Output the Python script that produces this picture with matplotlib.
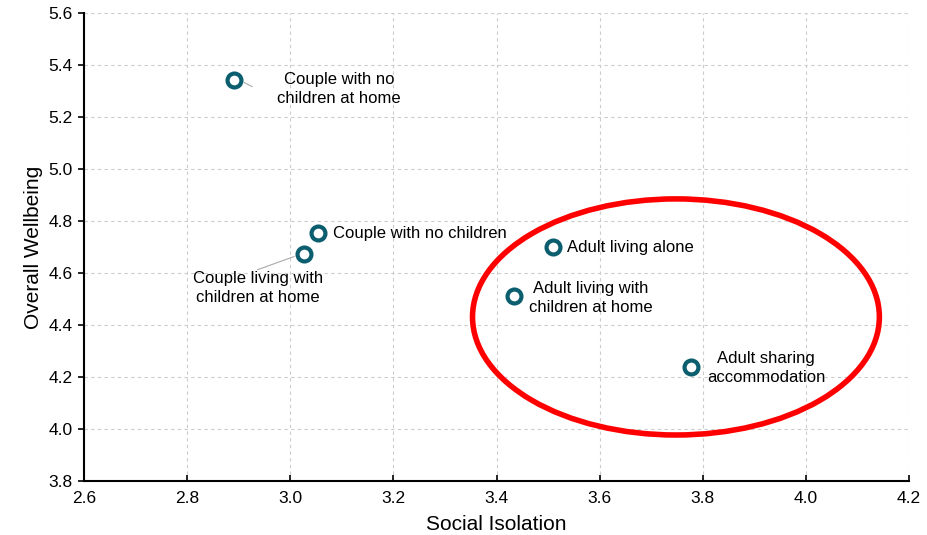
import matplotlib
matplotlib.use("Agg")
import matplotlib.pyplot as plt
from matplotlib.patches import Ellipse

plt.rcParams['font.family'] = ['Liberation Sans', 'DejaVu Sans']

categories = ["Couple with no\nchildren at home", "Couple with no children",
              "Couple living with\nchildren at home", "Adult living alone",
              "Adult living with\nchildren at home", "Adult sharing\naccommodation"]
social_isolation = [2.891, 3.054, 3.027, 3.510, 3.434, 3.777]
overall_wellbeing = [5.342, 4.754, 4.673, 4.700, 4.512, 4.238]

# label positions (data coords) and alignment
label_pos = [(3.095, 5.308), (3.083, 4.752), (2.937, 4.542), (3.537, 4.698),
             (3.583, 4.504), (3.923, 4.235)]
label_ha = ['center', 'left', 'center', 'left', 'center', 'center']
leader = [True, False, True, False, False, False]

fig = plt.figure(figsize=(9.27, 5.35), dpi=100)
ax = fig.add_axes([0.0906, 0.1009, 0.89, 0.8748])

ax.set_xlim(2.6, 4.2)
ax.set_ylim(3.8, 5.6)
ax.set_xticks([2.6, 2.8, 3.0, 3.2, 3.4, 3.6, 3.8, 4.0, 4.2])
ax.set_yticks([3.8, 4.0, 4.2, 4.4, 4.6, 4.8, 5.0, 5.2, 5.4, 5.6])
ax.xaxis.set_major_formatter(matplotlib.ticker.FormatStrFormatter('%.1f'))
ax.yaxis.set_major_formatter(matplotlib.ticker.FormatStrFormatter('%.1f'))
ax.grid(True, linestyle=(0, (3, 3)), color='#cccccc', linewidth=0.8)
ax.set_axisbelow(True)
for s in ['top', 'right']:
    ax.spines[s].set_visible(False)
for s in ['left', 'bottom']:
    ax.spines[s].set_linewidth(1.5)
    ax.spines[s].set_color('black')
ax.tick_params(labelsize=12.5, width=1.2)
ax.tick_params(axis='y', direction='out', length=4, pad=4)
ax.tick_params(axis='x', direction='in', length=4, pad=7)

ax.set_xlabel("Social Isolation", fontsize=15, labelpad=7)
ax.set_ylabel("Overall Wellbeing", fontsize=15, labelpad=4)

ax.plot(social_isolation, overall_wellbeing, linestyle='none', marker='o',
        markersize=10, markerfacecolor='white', markeredgecolor='#0b5e6e',
        markeredgewidth=3, zorder=5)

for i, name in enumerate(categories):
    lx, ly = label_pos[i]
    ax.text(lx, ly, name, ha=label_ha[i], va='center', fontsize=12,
            linespacing=1.3, zorder=6)
    if leader[i]:
        x0, y0 = social_isolation[i], overall_wellbeing[i]
        if i == 0:
            ax.plot([x0 + 0.02, x0 + 0.035], [y0 - 0.01, y0 - 0.025],
                    color='#aaaaaa', linewidth=0.8, zorder=4)
        else:
            ax.plot([x0 - 0.02, x0 - 0.09], [y0 - 0.01, y0 - 0.06],
                    color='#aaaaaa', linewidth=0.8, zorder=4)

ell = Ellipse((3.748, 4.431), width=0.789, height=0.908, fill=False,
              edgecolor='#ff0000', linewidth=4, zorder=3)
ax.add_patch(ell)

fig.savefig("out.png", dpi=100)
